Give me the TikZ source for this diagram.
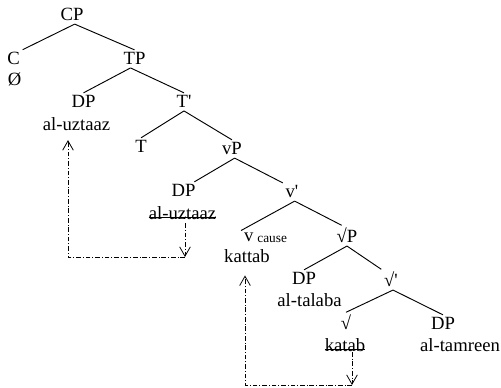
\documentclass[tikz,border=0pt]{standalone}
\usepackage{fontspec}
\setmainfont{Liberation Serif}
\usetikzlibrary{arrows.meta}
\begin{document}
\begin{tikzpicture}[x=0.75pt,y=-0.75pt,
  lbl/.style={anchor=base,inner sep=2pt,font=\fontsize{14}{16.8}\selectfont},
  edge/.style={line width=0.7pt},
  mv/.style={line width=0.6pt,dash pattern=on 3.5pt off 1.5pt on 0.6pt off 1.5pt,-{Straight Barb[length=7pt,width=8pt]}},
  strike/.style={line width=0.6pt,shorten <=2pt,shorten >=2pt}]
\useasboundingbox (0,0) rectangle (501,388);
% nodes
\node[lbl] (CP) at (72,21) {CP};
\node[lbl] (C) at (13.5,65) {C};
\node[lbl] (Cnull) at (14.5,86) {Ø};
\node[lbl] (TP) at (134.5,65) {TP};
\node[lbl] (DPa) at (83.5,108) {DP};
\node[lbl] (Tbar) at (184,108) {T\textquotesingle};
\node[lbl] (uza) at (76.5,131) {al-uztaaz};
\node[lbl] (T) at (141,153) {T};
\node[lbl] (vP) at (232,155) {vP};
\node[lbl] (DPb) at (183.5,197) {DP};
\node[lbl] (uzb) at (182.5,220) {al-uztaaz};
\node[lbl] (vbar) at (292,198) {v\textquotesingle};
\node[lbl] (vc) at (265.5,242) {v\hspace{3pt}\raisebox{-0.75pt}{\fontsize{10}{12}\selectfont cause}};
\node[lbl] (kattab) at (247,263) {kattab};
\node[lbl] (rootP) at (347,243) {√P};
\node[lbl] (DPc) at (304,285) {DP};
\node[lbl] (talaba) at (309.5,307) {al-talaba};
\node[lbl] (rootbar) at (391,287) {√\textquotesingle};
\node[lbl] (root) at (346,330) {√};
\node[lbl] (DPd) at (443,330) {DP};
\node[lbl] (katab) at (345,352) {katab};
\node[lbl] (tamreen) at (460,352) {al-tamreen};
% tree edges
\draw[edge] ([xshift=2pt]CP.south) -- (C.north east);
\draw[edge] ([xshift=2pt]CP.south) -- (TP.north);
\draw[edge] ([xshift=-3pt]TP.south) -- (DPa.north);
\draw[edge] ([xshift=-3pt]TP.south) -- (Tbar.north);
\draw[edge] (Tbar.south) -- (T.north);
\draw[edge] (Tbar.south) -- (vP.north);
\draw[edge] ([xshift=2pt]vP.south) -- ([xshift=-3pt]DPb.north east);
\draw[edge] ([xshift=2pt]vP.south) -- (vbar.north west);
\draw[edge] ([xshift=2pt]vbar.south) -- (vc.north west);
\draw[edge] ([xshift=2pt]vbar.south) -- ([xshift=-4pt]rootP.north);
\draw[edge] (rootP.south) -- (DPc.north);
\draw[edge] (rootP.south) -- (rootbar.north west);
\draw[edge] ([xshift=1.5pt]rootbar.south) -- (root.north);
\draw[edge] ([xshift=1.5pt]rootbar.south) -- (DPd.north);
% strike-throughs
\draw[strike] (uzb.mid west) -- (uzb.mid east);
\draw[strike] (katab.mid west) -- (katab.mid east);
% movement arrows
\coordinate (a1) at (185,257);
\coordinate (a2) at (68,257);
\draw[mv] (uzb.south -| a1) -- (a1);
\draw[mv,shorten >=4.5pt] (a1) -- (a2) -- (a2 |- uza.south);
\coordinate (b1) at (352,385);
\coordinate (b2) at (245,385);
\draw[mv] (katab.base -| b1) -- (b1);
\draw[mv,shorten >=7pt] (b1) -- (b2) -- (b2 |- kattab.south);
\end{tikzpicture}
\end{document}
